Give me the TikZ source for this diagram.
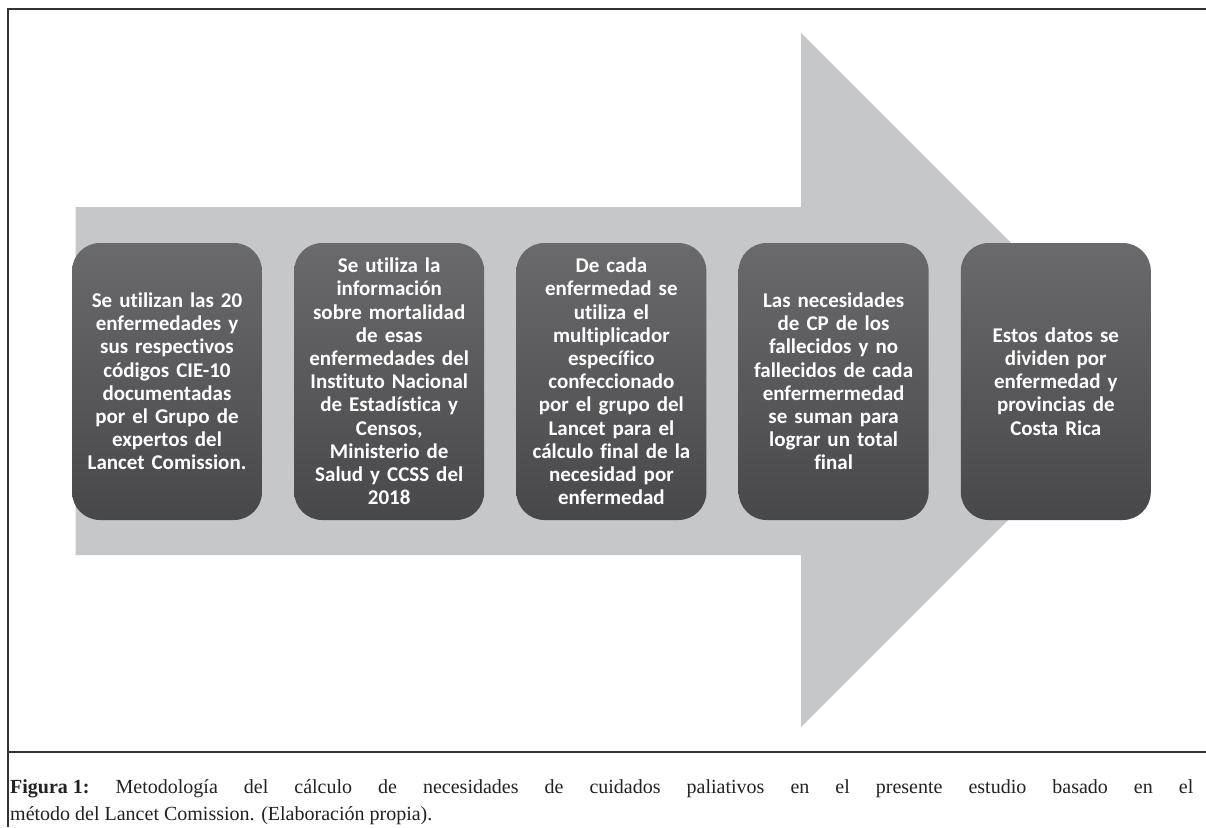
\documentclass[tikz,border=0pt]{standalone}
\usepackage{fontspec}
\setmainfont{Liberation Serif}
\newfontfamily\boxfont[Ligatures=NoCommon]{Carlito}
\definecolor{boxtop}{HTML}{6A6A6C}
\definecolor{boxbot}{HTML}{48484A}
\definecolor{arrowc}{HTML}{C6C7C9}
\definecolor{framec}{HTML}{333333}
\definecolor{captc}{HTML}{222222}
\begin{document}
\begin{tikzpicture}[x=1pt,y=-1pt,
  stepbox/.style={rounded corners=28pt, top color=boxtop, bottom color=boxbot,
    minimum width=190pt, minimum height=277pt, inner sep=0pt, text=white,
    font=\boxfont\bfseries\fontsize{21}{23.2}\selectfont, align=center, text width=188pt},
  frameline/.style={line width=2pt, draw=framec},
  captext/.style={anchor=north west, inner sep=0pt, text width=1183pt, align=justify,
    text=captc, font=\fontsize{20}{27.5}\selectfont}]
\useasboundingbox (0,0) rectangle (1206,827);
\fill[white] (0,0) rectangle (1206,827);
\fill[arrowc] (75.5,207) -- (801,207) -- (801,33) -- (1148,380) -- (801,727) -- (801,555) -- (75.5,555) -- cycle;
\node[stepbox] (s1) at (167,381.5) {Se utilizan las 20\\enfermedades y\\sus respectivos\\códigos CIE-10\\documentadas\\por el Grupo de\\expertos del\\Lancet Comission.};
\node[stepbox] (s2) at (389.2,381.5) {Se utiliza la\\información\\sobre mortalidad\\de esas\\enfermedades del\\Instituto Nacional\\de Estadística y\\Censos,\\Ministerio de\\Salud y CCSS del\\2018};
\node[stepbox] (s3) at (611.4,381.5) {De cada\\enfermedad se\\utiliza el\\multiplicador\\específico\\confeccionado\\por el grupo del\\Lancet para el\\cálculo final de la\\necesidad por\\enfermedad};
\node[stepbox] (s4) at (833.6,381.5) {Las necesidades\\de CP  de los\\fallecidos y no\\fallecidos de cada\\enfermermedad\\se suman para\\lograr un total\\final};
\node[stepbox] (s5) at (1055.8,381.5) {Estos datos se\\dividen por\\enfermedad y\\provincias de\\Costa Rica};
\draw[frameline] (1206,9) -- (8,9) -- (8,827);
\draw[frameline] (8,752) -- (1206,752);
\node[captext] (cap) at (10,779) {\mbox{\textbf{Figura 1:}} Metodología del cálculo de necesidades de cuidados paliativos en el presente estudio basado en el\linebreak método del Lancet Comission. (Elaboración propia).};
\end{tikzpicture}
\end{document}
